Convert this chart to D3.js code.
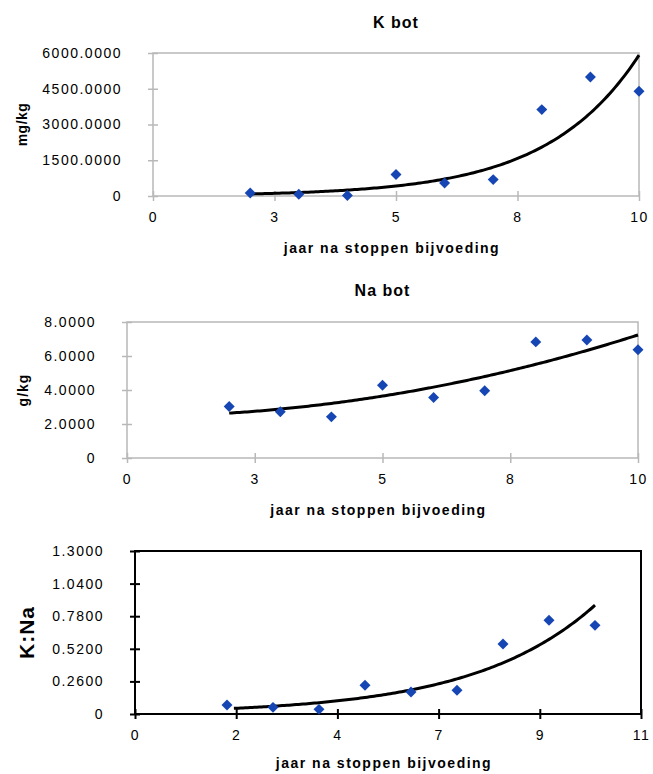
<!DOCTYPE html>
<html>
<head>
<meta charset="utf-8">
<script src="https://cdn.jsdelivr.net/npm/d3@7"></script>
<style>
  body { margin: 0; background: #fff; }
  text { font-family: "Liberation Sans", Arial, sans-serif; fill: #000; }
</style>
</head>
<body>
<svg id="chart" width="653" height="774"></svg>
<script>
// values
const years = [2, 3, 4, 5, 6, 7, 8, 9, 10];
const kBot = [126, 71, 20, 902, 545, 688, 3625, 4994, 4393];
const naBot = [3.03, 2.72, 2.42, 4.28, 3.56, 3.95, 6.83, 6.94, 6.37];
const kNa = [0.072, 0.053, 0.037, 0.229, 0.175, 0.189, 0.558, 0.747, 0.707];

const kTicks = [0, 1500, 3000, 4500, 6000];
const naTicks = [0, 2, 4, 6, 8];
const kNaTicks = [0, 0.26, 0.52, 0.78, 1.04, 1.3];
const xTicksTen = [0, 2.5, 5, 7.5, 10];
const xTicksEleven = [0, 2.2, 4.4, 6.6, 8.8, 11];

// trendline coefficients, estimated from the drawn curves
const kTrend = { type: 'exp', a: 29.8, b: 0.529, from: 2, to: 10 };
const naTrend = { type: 'poly', c: [2.4525, -0.0025, 0.0481], from: 2, to: 10 };
const kNaTrend = { type: 'exp', a: 0.02, b: 0.377, from: 2.15, to: 10 };

const svg = d3.select('#chart');
svg.append('rect').attr('width', 653).attr('height', 774).attr('fill', '#fff');

function trendValue(t, xv) {
    if (t.type === 'exp') return t.a * Math.exp(t.b * xv);
    return t.c[0] + t.c[1] * xv + t.c[2] * xv * xv;
}

function panel(o) {
    let w = o.right - o.left;
    let h = o.bottom - o.top;
    let g = svg.append('g').attr('transform', `translate(${o.left},${o.top})`);

    let x = d3.scaleLinear().domain(o.xDomain).range([0, w]);
    let y = d3.scaleLinear().domain(o.yDomain).range([h, 0]);

    // plot frame
    g.append('rect')
        .attr('width', w).attr('height', h)
        .attr('fill', 'none')
        .attr('stroke', o.frame)
        .attr('stroke-width', o.frameWidth);

    // y axis
    let ya = g.append('g')
        .call(d3.axisLeft(y)
            .tickValues(o.yTicks)
            .tickFormat(d => d === 0 ? '0' : d.toFixed(4))
            .tickSize(0)
            .tickPadding(31));
    ya.attr('font-size', 14).attr('font-family', null);
    ya.select('.domain').remove();
    ya.selectAll('.tick line')
        .attr('x1', -5).attr('x2', 5)
        .attr('stroke', o.frame).attr('stroke-width', o.frameWidth);
    ya.selectAll('.tick text').style('letter-spacing', '1.5px');

    // x axis
    let xa = g.append('g')
        .attr('transform', `translate(0,${h})`)
        .call(d3.axisBottom(x)
            .tickValues(o.xTicks)
            .tickFormat(d => Math.round(d))
            .tickSize(0)
            .tickPadding(16));
    xa.attr('font-size', 14).attr('font-family', null);
    xa.select('.domain').remove();
    xa.selectAll('.tick line')
        .attr('y1', -5).attr('y2', 5)
        .attr('stroke', o.frame).attr('stroke-width', o.frameWidth);
    xa.selectAll('.tick text').style('letter-spacing', '1.5px');

    // titles
    if (o.title) {
        g.append('text')
            .attr('x', w / 2).attr('y', o.titleY - o.top)
            .attr('text-anchor', 'middle')
            .attr('font-size', 16).attr('font-weight', 'bold')
            .style('letter-spacing', '1px')
            .text(o.title);
    }
    g.append('text')
        .attr('x', w / 2 - 4).attr('y', h + o.xTitleDy)
        .attr('text-anchor', 'middle')
        .attr('font-size', 14).attr('font-weight', 'bold')
        .style('letter-spacing', '1.5px')
        .text('jaar na stoppen bijvoeding');
    g.append('text')
        .attr('transform', `translate(${o.yTitleX - o.left},${h / 2}) rotate(-90)`)
        .attr('text-anchor', 'middle')
        .attr('dy', '0.35em')
        .attr('font-size', o.yTitleSize).attr('font-weight', 'bold')
        .style('letter-spacing', o.yTitleSpacing)
        .text(o.yTitle);

    // trendline
    let t = o.trend;
    let pts = d3.range(t.from, t.to + 0.001, 0.05).map(v => [v, trendValue(t, v)]);
    g.append('path')
        .datum(pts)
        .attr('fill', 'none')
        .attr('stroke', '#000')
        .attr('stroke-width', 3)
        .attr('d', d3.line().x(d => x(d[0])).y(d => y(d[1])));

    // markers
    let diamond = d3.symbol(d3.symbolSquare, 60);
    g.selectAll('.pt')
        .data(o.values)
        .enter().append('path')
        .attr('class', 'pt')
        .attr('transform', (d, i) => `translate(${x(years[i])},${y(d)}) rotate(45)`)
        .attr('d', diamond)
        .attr('fill', '#1646b4');
}

panel({
    left: 153, right: 639, top: 53, bottom: 196,
    xDomain: [0, 10], yDomain: [0, 6000],
    xTicks: xTicksTen, yTicks: kTicks,
    values: kBot, trend: kTrend,
    frame: '#b8b8b8', frameWidth: 1.5,
    title: 'K bot', titleY: 28,
    xTitleDy: 57,
    yTitle: 'mg/kg', yTitleX: 22, yTitleSize: 14, yTitleSpacing: '0.5px'
});

panel({
    left: 127, right: 638, top: 322, bottom: 458,
    xDomain: [0, 10], yDomain: [0, 8],
    xTicks: xTicksTen, yTicks: naTicks,
    values: naBot, trend: naTrend,
    frame: '#b8b8b8', frameWidth: 1.5,
    title: 'Na bot', titleY: 296,
    xTitleDy: 57,
    yTitle: 'g/kg', yTitleX: 23, yTitleSize: 14, yTitleSpacing: '1px'
});

panel({
    left: 135, right: 641, top: 551, bottom: 714,
    xDomain: [0, 11], yDomain: [0, 1.3],
    xTicks: xTicksEleven, yTicks: kNaTicks,
    values: kNa, trend: kNaTrend,
    frame: '#000', frameWidth: 2,
    title: null,
    xTitleDy: 54,
    yTitle: 'K:Na', yTitleX: 27, yTitleSize: 21, yTitleSpacing: '1px'
});
</script>
</body>
</html>
